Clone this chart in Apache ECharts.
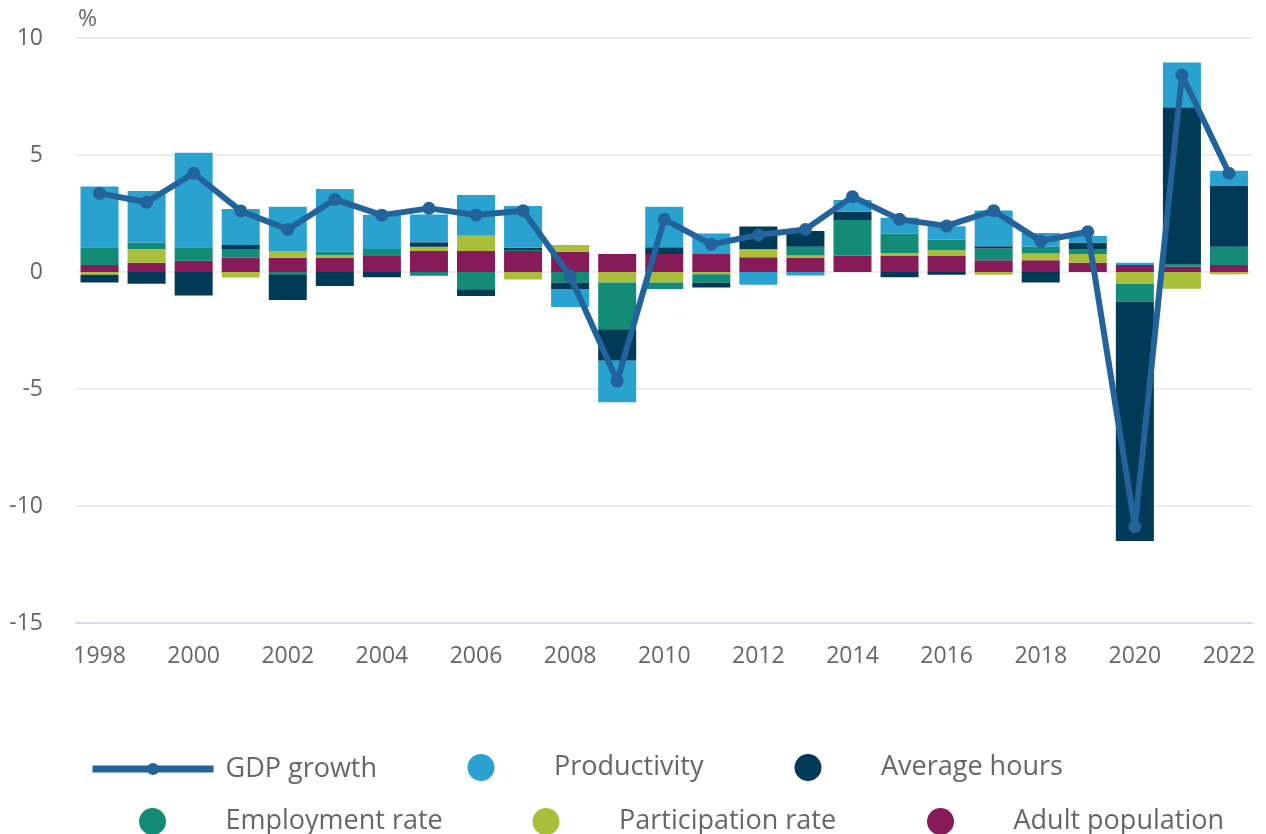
<!DOCTYPE html>
<html>
<head>
<meta charset="utf-8">
<script src="https://cdn.jsdelivr.net/npm/echarts@6/dist/echarts.min.js"></script>
<style>
  html, body { margin: 0; padding: 0; background: #fff; }
  #chart { width: 1266px; height: 834px; }
</style>
</head>
<body>
<div id="chart"></div>
<script>
// years on the x axis
var years = ['1998','1999','2000','2001','2002','2003','2004','2005','2006','2007','2008','2009','2010',
             '2011','2012','2013','2014','2015','2016','2017','2018','2019','2020','2021','2022'];

// contributions, percentage points (stacked outward from zero in this order)
var adultPop      = [0.30,0.40,0.48,0.61,0.61,0.60,0.68,0.90,0.90,0.90,0.87,0.77,0.77,0.77,0.63,0.60,0.70,0.70,0.70,0.50,0.50,0.40,0.30,0.23,0.30];
var participation = [-0.12,0.57,0,-0.24,0.29,0.12,0,0.18,0.65,-0.32,0.28,-0.45,-0.45,-0.10,0.34,0.11,0,0.10,0.23,-0.12,0.29,0.37,-0.50,-0.72,-0.10];
var employment    = [0.76,0.28,0.58,0.37,-0.10,0.15,0.30,-0.16,-0.74,0.04,-0.45,-2.00,-0.28,-0.36,0,0.37,1.52,0.85,0.46,0.50,0.29,0.21,-0.77,0.11,0.78];
var avgHours      = [-0.33,-0.50,-1.00,0.17,-1.10,-0.60,-0.22,0.19,-0.29,0.10,-0.28,-1.34,0.29,-0.20,0.97,0.67,0.36,-0.22,-0.12,0.10,-0.45,0.27,-10.23,6.70,2.60];
var productivity  = [2.59,2.21,4.04,1.54,1.89,2.68,1.46,1.19,1.74,1.78,-0.77,-1.78,1.73,0.88,-0.55,-0.15,0.50,0.67,0.57,1.53,0.59,0.29,0.10,1.91,0.65];
var gdpGrowth     = [3.36,2.98,4.22,2.61,1.82,3.10,2.43,2.72,2.44,2.62,-0.17,-4.66,2.25,1.18,1.58,1.82,3.22,2.25,1.97,2.62,1.32,1.72,-10.88,8.42,4.22];

var barNames  = ['Adult population','Participation rate','Employment rate','Average hours','Productivity'];
var barData   = [adultPop, participation, employment, avgHours, productivity];
var barColors = ['#871a58','#a9bf3b','#138b77','#003a57','#29a2cf'];

var font = '"Open Sans", "Noto Sans", sans-serif';
var txt = '#666666';

var series = barNames.map(function (n, i) {
  return {
    name: n, type: 'bar', stack: 'all', data: barData[i],
    barWidth: 38, itemStyle: { color: barColors[i] }, z: 2
  };
});
series.push({
  name: 'GDP growth', type: 'line', data: gdpGrowth, z: 5,
  symbol: 'circle', symbolSize: 13,
  lineStyle: { color: '#23639b', width: 6 },
  itemStyle: { color: '#23639b' }
});

// legend placement: [name, left, top]
var legendPos = [
  ['Productivity', 467.5, 754], ['Average hours', 794.5, 754],
  ['Employment rate', 139, 808], ['Participation rate', 532.5, 808], ['Adult population', 927, 808]
];
var legends = [{
  data: ['GDP growth'], left: 89, top: 755.5, padding: 0,
  itemWidth: 121, itemHeight: 15, selectedMode: false,
  lineStyle: { width: 7 },
  textStyle: { fontFamily: font, fontSize: 27, color: txt, padding: [0, 0, 0, 7] }
}];
legendPos.forEach(function (p) {
  legends.push({
    data: [{ name: p[0], icon: 'circle' }], left: p[1], top: p[2], padding: 0,
    itemWidth: 136, itemHeight: 27, selectedMode: false,
    textStyle: { fontFamily: font, fontSize: 27, color: txt }
  });
});

var chart = echarts.init(document.getElementById('chart'));
chart.setOption({
  animation: false,
  title: { text: '%', left: 78, top: 8, padding: 0,
           textStyle: { fontFamily: font, fontSize: 23, fontWeight: 'normal', color: txt } },
  grid: { left: 76, right: 13.5, top: 38, bottom: 211 },
  legend: legends,
  xAxis: {
    type: 'category', data: years,
    axisLine: { onZero: false, lineStyle: { color: '#ccd6eb', width: 1.5 } },
    axisTick: { interval: 1, alignWithLabel: true, length: 20, lineStyle: { color: '#ccd6eb', width: 1.5 } },
    axisLabel: { interval: 1, margin: 22, fontFamily: font, fontSize: 23, color: txt }
  },
  yAxis: {
    type: 'value', min: -15, max: 10, interval: 5,
    axisLine: { show: false }, axisTick: { show: false },
    axisLabel: { margin: 33, fontFamily: font, fontSize: 23, color: txt },
    splitLine: { lineStyle: { color: '#e6e6e6', width: 1.5 } }
  },
  series: series
});
</script>
</body>
</html>
